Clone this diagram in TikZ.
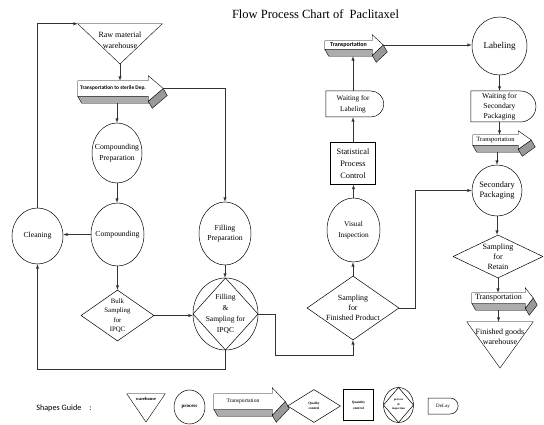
\documentclass[tikz,border=0pt]{standalone}
\usepackage{fontspec}
\setmainfont{Liberation Serif}
\newfontfamily\guidefont{Carlito}
\usetikzlibrary{shapes.geometric,shapes.misc,calc,backgrounds}

% transport arrow round its front face: #1 node, #2 head overhang, #3 head length
\newcommand\transp[3]{%
  \coordinate (#1-tip) at ($(#1.east)+(#3,0)$);
  \coordinate (#1-b) at ($(#1.south)+(0,7)$);
  \draw[fill=gray!65] (#1.south west) -- (#1.south east) -- ++(4,7) -- ($(#1.south west)+(4,7)$) -- cycle;
  \draw[fill=gray!80] ($(#1.south east)+(0,#2)$) -- (#1-tip) -- ++(4,7) -- ($(#1.south east)+(4,#2+7)$) -- cycle;
  \draw[fill=white] (#1.north west) -- (#1.north east) -- ($(#1.north east)+(0,-#2)$) -- (#1-tip)
    -- ($(#1.south east)+(0,#2)$) -- (#1.south east) -- (#1.south west) -- cycle;
}
% warehouse triangle: #1 node, #2 apex
\newcommand\whouse[2]{%
  \draw (#1.north west) -- (#1.north east) -- (#2) -- cycle;
}

\begin{document}
\begin{tikzpicture}[x=1pt,y=-1pt,line width=0.5pt,
  every node/.style={inner sep=0pt,align=center},
  arr/.style={-latex,draw=black!80},
  process/.style={ellipse,draw,inner xsep=-8pt,font=\fontsize{7.7}{10.5}\selectfont},
  check/.style={diamond,draw,aspect=1.5,inner sep=-10pt},
  qbox/.style={rectangle,draw},
  delay/.style={rounded rectangle,rounded rectangle left arc=none,draw},
  tfront/.style={rectangle},
  wbox/.style={rectangle},
  pinsp/.style={process,path picture={\draw (path picture bounding box.north) -- (path picture bounding box.east)
    -- (path picture bounding box.south) -- (path picture bounding box.west) -- cycle;}}]
\useasboundingbox (0,0) rectangle (544,425);

% Title
\node[font=\fontsize{12.5}{15}\selectfont] (title) at (315.5,14) {Flow Process Chart of\ \ Paclitaxel};

% Left part
\node[wbox,minimum width=84pt,minimum height=32pt,font=\fontsize{8}{11}\selectfont] (raw) at (120,40) {Raw material\\warehouse};
\coordinate (raw-tip) at (120,64);
\node[tfront,minimum width=70pt,minimum height=15pt,font=\guidefont\bfseries\fontsize{5.4}{6}\selectfont] (tr1) at (113,88.5) {Transportation to sterile Dep.};
\node[process,minimum width=50pt,minimum height=60pt] (cprep) at (117,153) {Compounding\\Preparation};
\node[process,minimum width=53pt,minimum height=63pt] (comp) at (117.5,234.5) {Compounding};
\node[process,minimum width=51pt,minimum height=56pt] (clean) at (37.5,236) {Cleaning};
\node[check,minimum width=73pt,minimum height=51pt,font=\fontsize{6.8}{9.5}\selectfont] (bulk) at (117.5,315.5) {Bulk\\Sampling\\for\\IPQC};
\node[process,minimum width=52pt,minimum height=63pt] (fprep) at (225,233.5) {Filling\\Preparation};
\node[pinsp,minimum width=65pt,minimum height=72pt,font=\fontsize{7.5}{11}\selectfont] (fill) at (225.5,314) {Filling\\\&\\Sampling for\\IPQC};

% Middle column
\node[check,minimum width=92pt,minimum height=64pt,font=\fontsize{7.9}{10}\selectfont] (sfp) at (353,308) {Sampling\\for\\Finished Product};
\node[process,minimum width=53pt,minimum height=64pt,font=\fontsize{7.3}{11}\selectfont] (vis) at (353.5,230) {Visual\\Inspection};
\node[qbox,minimum width=45pt,minimum height=42pt,font=\fontsize{8.3}{12}\selectfont] (spc) at (353,163.5) {Statistical\\Process\\Control};
\node[delay,minimum width=58pt,minimum height=26pt,font=\fontsize{7.2}{11.5}\selectfont] (wait1) at (353,104) {Waiting for\\Labeling};
\node[tfront,minimum width=47pt,minimum height=8pt,font=\guidefont\bfseries\fontsize{6}{7}\selectfont] (tr2) at (348.5,45) {Transportation};

% Right column
\node[process,minimum width=55pt,minimum height=58pt,font=\fontsize{9}{11}\selectfont] (lab) at (499.5,46) {Labeling};
\node[delay,minimum width=65pt,minimum height=31pt,font=\fontsize{7.6}{10}\selectfont] (wait2) at (499.5,106.5) {Waiting for\\Secondary\\Packaging};
\node[tfront,minimum width=45pt,minimum height=10pt,font=\fontsize{6.5}{7}\selectfont] (tr3) at (495.5,140) {Transportation};
\node[process,minimum width=50pt,minimum height=51pt,font=\fontsize{8.4}{10.5}\selectfont] (sec) at (497,190.5) {Secondary\\Packaging};
\node[check,minimum width=90pt,minimum height=43pt,font=\fontsize{8}{10}\selectfont] (ret) at (498,256.5) {Sampling\\for\\Retain};
\node[tfront,minimum width=53pt,minimum height=10pt,font=\fontsize{8}{9}\selectfont] (tr4) at (498.5,298) {Transportation};
\node[wbox,minimum width=66pt,minimum height=30pt,font=\fontsize{8}{9.5}\selectfont] (fg) at (500,337) {Finished goods\\warehouse};
\coordinate (fg-tip) at (500,368);

% Shapes guide
\node[font=\guidefont\fontsize{8.2}{10}\selectfont,anchor=west] (guide) at (36,408) {Shapes Guide\hspace{8pt}:};
\node[wbox,minimum width=38pt,minimum height=9pt,font=\bfseries\fontsize{4.5}{5}\selectfont] (lware) at (146,398.5) {warehouse};
\coordinate (lware-tip) at (146,422);
\node[process,minimum width=31pt,minimum height=34pt,font=\bfseries\fontsize{5}{6}\selectfont] (lproc) at (189.5,407) {process};
\node[tfront,minimum width=58pt,minimum height=15pt,font=\fontsize{5.6}{6}\selectfont] (ltrans) at (243,401.5) {Transportation};
\node[check,minimum width=53pt,minimum height=33pt,font=\bfseries\fontsize{3.5}{4.5}\selectfont] (lqual) at (314,406) {Quality\\control};
\node[qbox,minimum width=30pt,minimum height=31pt,font=\bfseries\fontsize{3.5}{6}\selectfont] (lquan) at (358.5,405) {Quantity\\control};
\node[pinsp,minimum width=30pt,minimum height=35pt,font=\bfseries\fontsize{3}{4.5}\selectfont] (lpi) at (398.5,405) {process\\\&\\inspection};
\node[delay,minimum width=30pt,minimum height=16pt,font=\fontsize{5}{6}\selectfont] (ldelay) at (443,406) {DeLay};

% Outlines of warehouses and transports
\begin{scope}[on background layer]
\whouse{raw}{raw-tip}
\whouse{fg}{fg-tip}
\whouse{lware}{lware-tip}
\transp{tr1}{5}{15}
\transp{tr2}{6}{11}
\transp{tr3}{4}{13}
\transp{tr4}{5}{8}
\transp{ltrans}{6}{13}
\end{scope}

% Flow of the left part
\draw[arr] (clean.north) |- (raw.north west);
\draw[arr] (raw-tip) -- (raw-tip |- tr1.north);
\draw[arr] (cprep.north |- tr1-b) -- (cprep.north);
\draw[arr] (tr1-tip) -| (fprep.north);
\draw[arr] (cprep.south) -- (cprep.south |- comp.north);
\draw[arr] (comp.west) -- (comp.west -| clean.east);
\draw[arr] (comp.south) -- (comp.south |- bulk.north);
\draw[arr] (bulk.east) -- (bulk.east -| fill.west);
\draw[arr] (fprep.south) -- (fprep.south |- fill.north);
\draw[arr] (fill.south) -- ++(0,19) -| (clean.south);
\draw[arr] (fill.east) -- ++(17,0) |- ($(sfp.south)+(0,15)$) -- (sfp.south);

% Flow of the middle column
\draw[arr] (sfp.north) -- (sfp.north |- vis.south);
\draw[arr] (vis.north) -- (vis.north |- spc.south);
\draw[arr] (spc.north) -- (spc.north |- wait1.south);
\draw[arr] (wait1.north) -- (wait1.north |- tr2-b);
\draw[arr] (tr2-tip) -- (tr2-tip -| lab.west);
\draw[arr] (sfp.east) -- ++(16,0) |- (sec.west);

% Flow of the right column
\draw[arr] (lab.south) -- (lab.south |- wait2.north);
\draw[arr] (wait2.south) -- (wait2.south |- tr3.north);
\draw[arr] (sec.north |- tr3-b) -- (sec.north);
\draw[arr] (sec.south) -- (sec.south |- ret.north);
\draw[arr] (ret.south) -- (ret.south |- tr4.north);
\draw[arr] (tr4-b) -- (tr4-b |- fg.north);
\end{tikzpicture}
\end{document}
